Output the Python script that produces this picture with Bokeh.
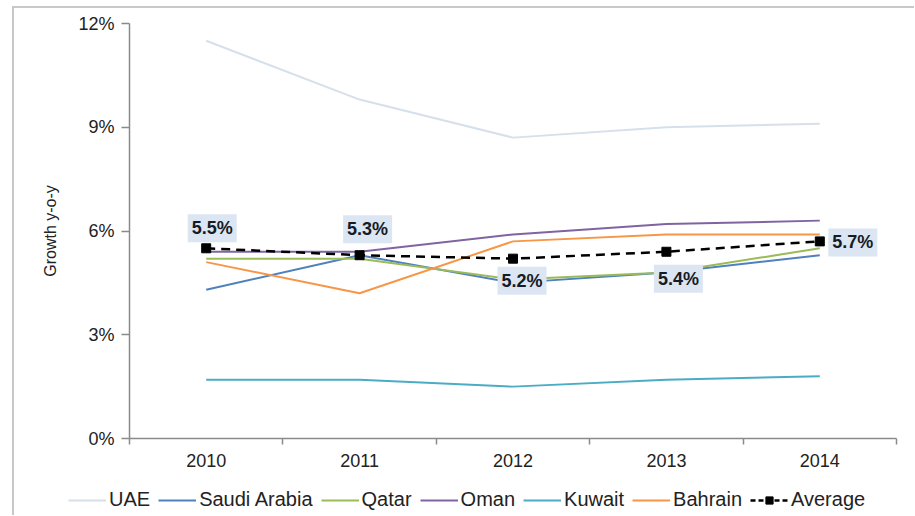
from bokeh.plotting import figure
from bokeh.layouts import column
from bokeh.models import (FixedTicker, PrintfTickFormatter, Legend, LegendItem,
                          ColumnDataSource, Range1d)
from bokeh.core.properties import value
from bokeh.embed import file_html
from bokeh.resources import INLINE

years = [2010, 2011, 2012, 2013, 2014]
uae = [11.5, 9.8, 8.7, 9.0, 9.1]
saudi = [4.3, 5.3, 4.5, 4.8, 5.3]
qatar = [5.2, 5.2, 4.6, 4.8, 5.5]
oman = [5.4, 5.4, 5.9, 6.2, 6.3]
kuwait = [1.7, 1.7, 1.5, 1.7, 1.8]
bahrain = [5.1, 4.2, 5.7, 5.9, 5.9]
average = [5.5, 5.3, 5.2, 5.4, 5.7]
average_labels = ["5.5%", "5.3%", "5.2%", "5.4%", "5.7%"]
y_ticks = [0, 3, 6, 9, 12]

series = [
    ("UAE", uae, "#d6e0eb"),
    ("Saudi Arabia", saudi, "#4f81bd"),
    ("Qatar", qatar, "#9bbb59"),
    ("Oman", oman, "#8064a2"),
    ("Kuwait", kuwait, "#4bacc6"),
    ("Bahrain", bahrain, "#f79646"),
]

# label placement (screen offsets, style only; positive dy = down)
label_dx = [6, 8, 9, 12, 33]
label_dy = [-20, -26, 22, 27, 1]

font = "Liberation Sans"
axis_col = "#8a8a8a"

p = figure(width=900, height=475,
           x_range=Range1d(years[0] - 0.5, years[-1] + 0.5),
           y_range=Range1d(y_ticks[0], y_ticks[-1]),
           output_backend="svg", toolbar_location=None,
           min_border_left=115, min_border_right=18,
           min_border_top=15, min_border_bottom=45)
p.xgrid.visible = False
p.ygrid.visible = False
p.outline_line_color = None

p.xaxis.ticker = FixedTicker(ticks=years,
                             minor_ticks=[y - 0.5 for y in years] + [years[-1] + 0.5])
p.xaxis.major_label_overrides = {y: str(y) for y in years}
p.xaxis.major_tick_line_color = None
p.xaxis.major_tick_out = 0
p.xaxis.minor_tick_in = 0
p.xaxis.minor_tick_out = 6
p.xaxis.minor_tick_line_color = axis_col
p.xaxis.minor_tick_line_width = 1.5
p.xaxis.axis_line_color = axis_col
p.xaxis.axis_line_width = 1.5
p.xaxis.major_label_text_font = font
p.xaxis.major_label_text_font_size = "18px"
p.xaxis.major_label_text_color = "#222222"
p.xaxis.major_label_standoff = 9

p.yaxis.ticker = FixedTicker(ticks=y_ticks, minor_ticks=[])
p.yaxis.formatter = PrintfTickFormatter(format="%d%%")
p.yaxis.major_tick_in = 0
p.yaxis.major_tick_out = 8
p.yaxis.major_tick_line_color = axis_col
p.yaxis.major_tick_line_width = 1.5
p.yaxis.axis_line_color = axis_col
p.yaxis.axis_line_width = 1.5
p.yaxis.major_label_text_font = font
p.yaxis.major_label_text_font_size = "18px"
p.yaxis.major_label_text_color = "#222222"
p.yaxis.major_label_standoff = 7
p.yaxis.axis_label = "Growth y-o-y"
p.yaxis.axis_label_text_font = font
p.yaxis.axis_label_text_font_size = "16px"
p.yaxis.axis_label_text_font_style = "normal"
p.yaxis.axis_label_text_color = "#222222"
p.yaxis.axis_label_standoff = 16

for name, vals, col in series:
    p.line(years, vals, line_color=col, line_width=2)
p.line(years, average, line_color="black", line_width=2.5, line_dash="9 6")
p.scatter(years, average, marker="square", size=9, color="black")

src = ColumnDataSource(dict(x=years, y=average, text=average_labels,
                            dx=label_dx, dy=label_dy))
p.text(x="x", y="y", text="text", source=src,
       x_offset="dx", y_offset="dy",
       text_align="center", text_baseline="middle",
       text_font=value(font), text_font_size="18px", text_font_style="bold",
       text_color="#161b26",
       background_fill_color="#dce6f2", padding=4)

# legend strip below the chart (its series are drawn outside its visible range)
lf = figure(width=900, height=32, x_range=Range1d(0, 1), y_range=Range1d(0, 1),
            output_backend="svg", toolbar_location=None, min_border=0)
lf.frame_align = False
lf.axis.visible = False
lf.grid.visible = False
lf.outline_line_color = None
items = []
for name, vals, col in series:
    r = lf.line(years, vals, line_color=col, line_width=2)
    items.append(LegendItem(label=name, renderers=[r]))
ra = lf.line(years, average, line_color="black", line_width=2.5, line_dash="5 3")
rs = lf.scatter(years, average, marker="square", size=9, color="black")
items.append(LegendItem(label="Average", renderers=[ra, rs]))

legend = Legend(items=items, orientation="horizontal", location=(54, 4),
                glyph_width=38, glyph_height=18, label_height=18,
                label_standoff=3, spacing=8, padding=0, margin=0,
                border_line_color=None, background_fill_alpha=0,
                label_text_font=font, label_text_font_size="20px",
                label_text_color="#222222")
lf.add_layout(legend)

layout = column(p, lf, spacing=0,
                styles={"border-left": "2px solid #c8c8c8",
                        "border-top": "2px solid #c8c8c8",
                        "margin-left": "12px", "margin-top": "6px"})

open("out.html", "w").write(file_html(layout, INLINE))
